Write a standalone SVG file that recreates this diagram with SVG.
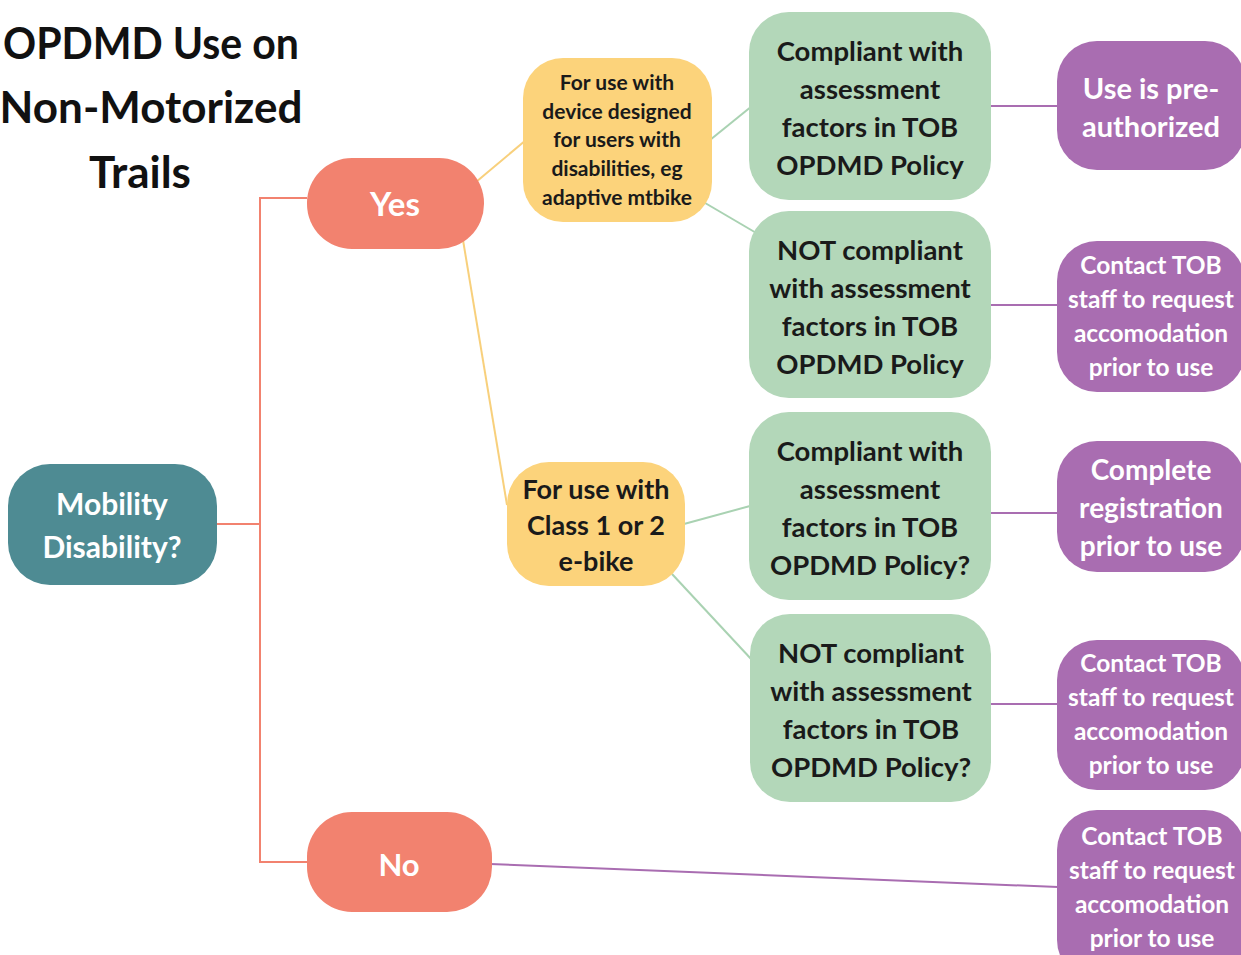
<svg xmlns="http://www.w3.org/2000/svg" width="1241" height="955" viewBox="0 0 1241 955">
<style>
text{font-family:Lato,"Open Sans","DejaVu Sans",sans-serif;font-weight:bold;text-anchor:middle}
.title{font-size:44px;fill:#111}
.w{fill:#fff}
.k{fill:#1a1a1a}
.teal{fill:#4E8B93}
.red{fill:#F2826F}
.yel{fill:#FCD37B}
.grn{fill:#B3D7B9}
.pur{fill:#A96DB1}
.c{fill:none;stroke-width:2}
.cr{stroke:#F2826F}
.cy{stroke:#F8D07C}
.cg{stroke:#A9D2B2}
.cp{stroke:#A96DB1}
</style>
<rect width="1241" height="955" fill="#fff"/>
<g id="title">
<text class="title" x="151" y="59" textLength="296" lengthAdjust="spacingAndGlyphs">OPDMD Use on</text>
<text class="title" x="151" y="123">Non-Motorized</text>
<text class="title" x="140" y="188">Trails</text>
</g>
<g id="connectors">
<polyline class="c cr" points="217,524 260,524"/>
<polyline class="c cr" points="307,198 260,198 260,862 307,862"/>
<line class="c cy" x1="476" y1="182" x2="526" y2="140"/>
<line class="c cy" x1="463" y1="240" x2="507" y2="505"/>
<line class="c cg" x1="710" y1="140" x2="752" y2="106"/>
<line class="c cg" x1="700" y1="200" x2="758" y2="234"/>
<line class="c cg" x1="684" y1="524" x2="750" y2="506"/>
<line class="c cg" x1="672" y1="574" x2="752" y2="660"/>
<line class="c cp" x1="991" y1="106" x2="1058" y2="106"/>
<line class="c cp" x1="991" y1="305" x2="1058" y2="305"/>
<line class="c cp" x1="991" y1="513" x2="1058" y2="513"/>
<line class="c cp" x1="991" y1="704" x2="1058" y2="704"/>
<line class="c cp" x1="490" y1="864" x2="1058" y2="887"/>
</g>
<g id="n-mobility">
<rect class="teal" x="8" y="464" width="209" height="121" rx="42"/>
<text class="w" x="112" y="515" font-size="30">Mobility</text>
<text class="w" x="112" y="558" font-size="30">Disability?</text>
</g>
<g id="n-yes">
<rect class="red" x="307" y="158" width="177" height="91" rx="45"/>
<text class="w" x="395" y="216" font-size="33">Yes</text>
</g>
<g id="n-no">
<rect class="red" x="307" y="812" width="185" height="100" rx="45"/>
<text class="w" x="399" y="876" font-size="31">No</text>
</g>
<g id="n-y1">
<rect class="yel" x="523" y="58" width="189" height="164" rx="40"/>
<text class="k" x="617" y="90" font-size="21">For use with</text>
<text class="k" x="617" y="119" font-size="21">device designed</text>
<text class="k" x="617" y="147" font-size="21">for users with</text>
<text class="k" x="617" y="176" font-size="21">disabilities, eg</text>
<text class="k" x="617" y="205" font-size="21">adaptive mtbike</text>
</g>
<g id="n-y2">
<rect class="yel" x="507" y="462" width="178" height="124" rx="42"/>
<text class="k" x="596" y="499" font-size="27">For use with</text>
<text class="k" x="596" y="535" font-size="27">Class 1 or 2</text>
<text class="k" x="596" y="571" font-size="27">e-bike</text>
</g>
<g id="n-g1">
<rect class="grn" x="749" y="12" width="242" height="188" rx="40"/>
<text class="k" x="870" y="61" font-size="27.5">Compliant with</text>
<text class="k" x="870" y="99" font-size="27.5">assessment</text>
<text class="k" x="870" y="137" font-size="27.5">factors in TOB</text>
<text class="k" x="870" y="175" font-size="27.5">OPDMD Policy</text>
</g>
<g id="n-g2">
<rect class="grn" x="749" y="211" width="242" height="187" rx="40"/>
<text class="k" x="870" y="260" font-size="27.5">NOT compliant</text>
<text class="k" x="870" y="298" font-size="27.5">with assessment</text>
<text class="k" x="870" y="336" font-size="27.5">factors in TOB</text>
<text class="k" x="870" y="374" font-size="27.5">OPDMD Policy</text>
</g>
<g id="n-g3">
<rect class="grn" x="749" y="412" width="242" height="188" rx="40"/>
<text class="k" x="870" y="461" font-size="27.5">Compliant with</text>
<text class="k" x="870" y="499" font-size="27.5">assessment</text>
<text class="k" x="870" y="537" font-size="27.5">factors in TOB</text>
<text class="k" x="870" y="575" font-size="27.5">OPDMD Policy?</text>
</g>
<g id="n-g4">
<rect class="grn" x="750" y="614" width="241" height="188" rx="40"/>
<text class="k" x="871" y="663" font-size="27.5">NOT compliant</text>
<text class="k" x="871" y="701" font-size="27.5">with assessment</text>
<text class="k" x="871" y="739" font-size="27.5">factors in TOB</text>
<text class="k" x="871" y="777" font-size="27.5">OPDMD Policy?</text>
</g>
<g id="n-p1">
<rect class="pur" x="1057" y="41" width="188" height="129" rx="40"/>
<text class="w" x="1151" y="99" font-size="29">Use is pre-</text>
<text class="w" x="1151" y="137" font-size="29">authorized</text>
</g>
<g id="n-p2">
<rect class="pur" x="1057" y="241" width="188" height="151" rx="40"/>
<text class="w" x="1151" y="274" font-size="24.5">Contact TOB</text>
<text class="w" x="1151" y="308" font-size="24.5">staff to request</text>
<text class="w" x="1151" y="342" font-size="24.5">accomodation</text>
<text class="w" x="1151" y="376" font-size="24.5">prior to use</text>
</g>
<g id="n-p3">
<rect class="pur" x="1057" y="441" width="188" height="131" rx="40"/>
<text class="w" x="1151" y="480" font-size="28">Complete</text>
<text class="w" x="1151" y="518" font-size="28">registration</text>
<text class="w" x="1151" y="556" font-size="28">prior to use</text>
</g>
<g id="n-p4">
<rect class="pur" x="1057" y="640" width="188" height="150" rx="40"/>
<text class="w" x="1151" y="672" font-size="24.5">Contact TOB</text>
<text class="w" x="1151" y="706" font-size="24.5">staff to request</text>
<text class="w" x="1151" y="740" font-size="24.5">accomodation</text>
<text class="w" x="1151" y="774" font-size="24.5">prior to use</text>
</g>
<g id="n-p5">
<rect class="pur" x="1057" y="810" width="188" height="170" rx="40"/>
<text class="w" x="1152" y="845" font-size="24.5">Contact TOB</text>
<text class="w" x="1152" y="879" font-size="24.5">staff to request</text>
<text class="w" x="1152" y="913" font-size="24.5">accomodation</text>
<text class="w" x="1152" y="947" font-size="24.5">prior to use</text>
</g>
</svg>
